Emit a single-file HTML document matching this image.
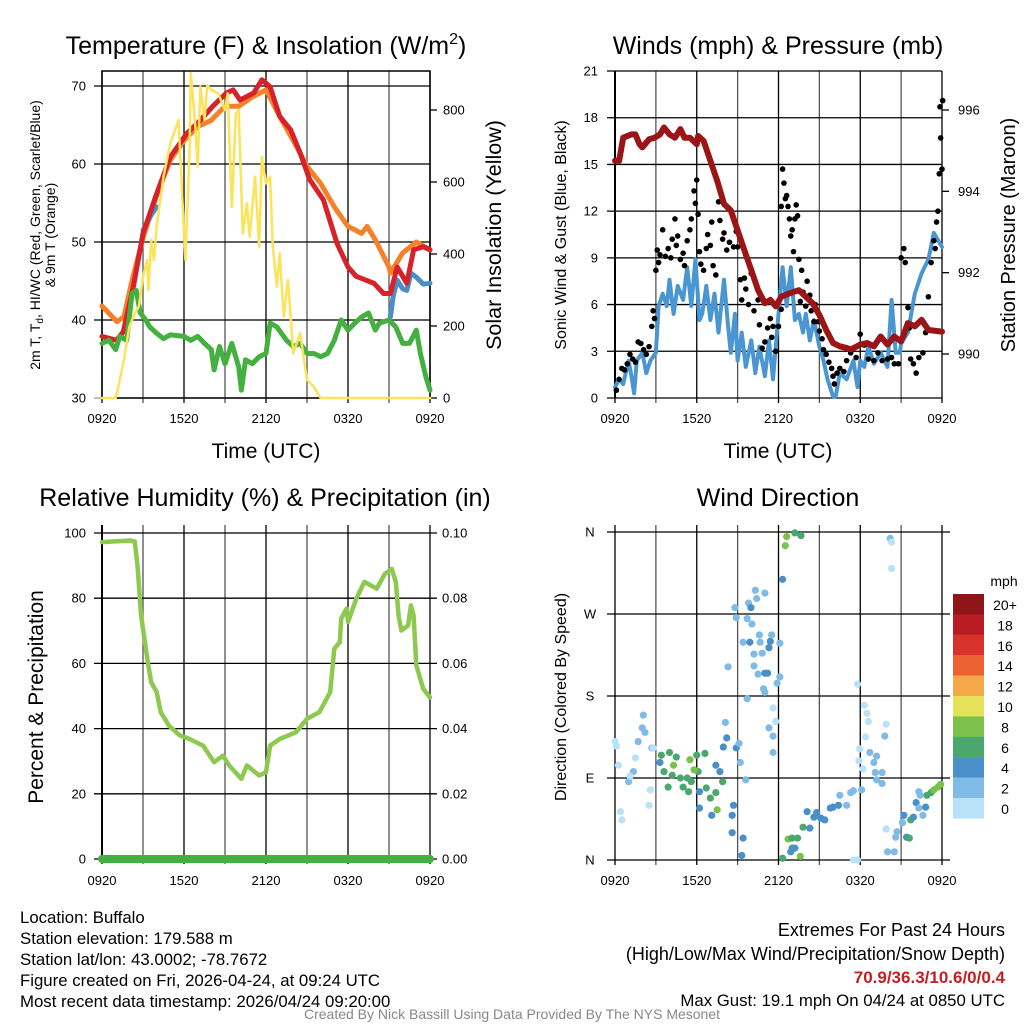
<!DOCTYPE html>
<html><head><meta charset="utf-8">
<style>
html,body{margin:0;padding:0;background:#fff;}
svg{display:block;font-family:"Liberation Sans",sans-serif;}
</style></head>
<body>
<svg id="chart" width="1024" height="1024" viewBox="0 0 1024 1024" xmlns="http://www.w3.org/2000/svg">
<rect width="1024" height="1024" fill="#fff"/>
<g id="layer"></g>
<text x="266" y="54" font-size="25" text-anchor="middle">Temperature (F) &amp; Insolation (W/m<tspan font-size="16" dy="-10">2</tspan><tspan dy="10">)</tspan></text>
<text x="778" y="54" font-size="25" text-anchor="middle">Winds (mph) &amp; Pressure (mb)</text>
<text x="265" y="506" font-size="25" text-anchor="middle">Relative Humidity (%) &amp; Precipitation (in)</text>
<text x="778" y="506" font-size="25" text-anchor="middle">Wind Direction</text>
<text x="266" y="458" font-size="21" text-anchor="middle">Time (UTC)</text>
<text x="778" y="458" font-size="21" text-anchor="middle">Time (UTC)</text>
<text transform="translate(40,235) rotate(-90)" font-size="14" text-anchor="middle">2m T, T<tspan font-size="10" dy="3">d</tspan><tspan dy="-3">, HI/WC (Red, Green, Scarlet/Blue)</tspan></text>
<text transform="translate(55,235) rotate(-90)" font-size="14" text-anchor="middle">&amp; 9m T (Orange)</text>
<text transform="translate(501,235) rotate(-90)" font-size="21.5" text-anchor="middle">Solar Insolation (Yellow)</text>
<text transform="translate(566,235) rotate(-90)" font-size="16" text-anchor="middle">Sonic Wind &amp; Gust (Blue, Black)</text>
<text transform="translate(1015,235) rotate(-90)" font-size="20" text-anchor="middle">Station Pressure (Maroon)</text>
<text transform="translate(43,697) rotate(-90)" font-size="21" text-anchor="middle">Percent &amp; Precipitation</text>
<text transform="translate(566,697) rotate(-90)" font-size="16" text-anchor="middle">Direction (Colored By Speed)</text>
<g font-size="16.8">
<text x="20" y="923">Location: Buffalo</text>
<text x="20" y="944">Station elevation: 179.588 m</text>
<text x="20" y="965">Station lat/lon: 43.0002; -78.7672</text>
<text x="20" y="986">Figure created on Fri, 2026-04-24, at 09:24 UTC</text>
<text x="20" y="1007">Most recent data timestamp: 2026/04/24 09:20:00</text>
</g>
<g text-anchor="end">
<text x="1005" y="936" font-size="18">Extremes For Past 24 Hours</text>
<text x="1005" y="960" font-size="18">(High/Low/Max Wind/Precipitation/Snow Depth)</text>
<text x="1005" y="983" font-size="17" font-weight="bold" fill="#c41e24">70.9/36.3/10.6/0/0.4</text>
<text x="1005" y="1006" font-size="16.8">Max Gust: 19.1 mph On 04/24 at 0850 UTC</text>
</g>
<text x="512" y="1019" font-size="14" fill="#888" text-anchor="middle">Created By Nick Bassill Using Data Provided By The NYS Mesonet</text>
</svg>
<script>
// ---- Panel 1: temperature ----
var tRedT=[0,1.07,1.56,2.3,3.0,4.0,5.0,6.2,7.2,8.1,9.1,9.6,10.1,11.1,11.7,12.3,13.0,13.8,14.5,15.2,16.2,17.2,18.0,18.6,19.9,20.6,21.1,21.6,22.3,22.8,23.5,24];
var tRedV=[37.9,37.4,38.5,44.3,51.1,56.2,60.9,63.9,65.6,67.4,69.1,69.5,68.2,69.1,70.8,69.9,66.1,64.4,61.4,58,55.4,49.8,46.8,45.6,44.7,43.4,43.4,46.8,44.7,49,49.4,49];
var tOrT=[0,1.1,1.6,2.2,3,4,5,6,7,8,9,10,11,12,13,14,15,16,17,18,19,19.4,20,21,21.1,22,23,24];
var tOrV=[41.8,39.8,40.4,45.1,50.5,56,60.5,63,64.8,65.6,67.4,67.4,68.6,69.5,66.1,63,59.7,57.5,54.5,52,51.1,52,50.3,46.8,46,48.6,50,49];
var tBl1T=[3.0,3.3,3.6,4.0];
var tBl1V=[51.5,52.5,53.5,54.5];
var tBl2T=[21.1,21.3,21.6,22,22.3,22.6,23,23.5,24];
var tBl2V=[40.4,43,45.1,44,43.8,46,45.5,44.6,44.7];
var tGrT=[0,0.5,1,1.3,1.8,2.2,2.5,2.8,3.2,3.5,4,4.5,5,6,6.5,7,7.5,8,8.2,8.6,9,9.5,10,10.2,10.5,11,11.5,12,12.3,12.8,13.5,14,14.5,15,15.5,16,16.5,17,17.5,18,18.5,19,19.5,20,20.3,21,21.5,22,22.5,23,23.3,23.7,24];
var tGrV=[37.0,37.4,36.2,37.9,37.4,43.4,43.8,40.9,40.0,39.1,38.3,37.6,38.1,37.9,37.4,37.9,37.0,36.2,33.6,36.6,34.4,37.0,34.0,31.0,34.9,34.4,35.3,35.7,39.6,39.1,37.4,36.6,37.0,35.7,35.7,35.3,35.7,37.4,40.0,38.7,39.6,40.4,40.9,38.7,39.6,40.0,39.1,37.0,37.0,38.7,35.7,32.7,31.0];
var solT=[0,1,1.2,1.6,2,2.4,2.7,3,3.3,3.4,3.6,3.8,4,4.5,5,5.6,6.1,6.4,6.5,6.8,7,7.2,7.5,7.7,8,8.5,9,9.2,9.5,9.8,10,10.3,10.6,10.8,11.2,11.5,11.7,12,12.3,12.5,12.8,13,13.3,13.6,14,14.5,15,15.5,16,24];
var solV=[0,0,31,106,198,235,254,337,383,300,439,383,476,615,707,772,383,680,902,772,643,865,772,869,856,846,800,846,531,791,800,457,541,448,615,420,670,596,615,420,309,402,226,328,124,180,50,31,0,0];
var tempTicks=[30,40,50,60,70];
var solTicks=[0,200,400,600,800];
var timeLabels=["0920","1520","2120","0320","0920"];
// ---- Panel 2: winds ----
var presT=[0,0.3,0.6,1.2,1.5,1.8,2,2.5,2.9,3.3,3.6,4,4.4,4.8,5.1,5.5,6,6.1,6.5,7,7.5,8,8.5,9,9.5,10,10.5,11,11.4,11.8,12.2,12.8,13.5,14,14.5,15,15.5,16,16.5,17,17.3,18,18.5,19,19.5,20,20.5,21,21.5,22,22.5,23,24];
var presV=[994.75,994.75,995.32,995.40,995.40,995.16,995.08,995.28,995.32,995.40,995.57,995.40,995.32,995.53,995.32,995.32,995.16,995.36,995.24,994.75,994.26,993.69,993.53,993.04,992.55,992.06,991.57,991.25,991.33,991.17,991.41,991.49,991.57,991.41,991.25,990.96,990.59,990.27,990.19,990.15,990.11,990.23,990.27,990.19,990.43,990.23,990.43,990.31,990.76,990.68,990.84,990.59,990.55];
var windT=[0,0.3,0.6,1,1.2,1.4,1.6,2,2.3,2.6,3,3.2,3.5,3.8,4,4.3,4.6,5,5.3,5.6,5.9,6.2,6.4,6.7,7,7.3,7.6,8,8.3,8.5,8.8,9,9.3,9.6,10,10.3,10.6,11,11.3,11.6,12,12.3,12.6,12.9,13.2,13.5,13.8,14,14.3,14.6,15,15.3,15.6,16,16.2,16.5,17,17.5,17.8,18,18.3,18.6,19,19.5,20,20.3,20.6,20.9,21,21.5,22,22.5,23,23.4,24];
var windV=[0.7,1.2,0.9,2.4,1.4,0.3,2.4,2.9,1.6,2.4,2.9,5.9,6.7,5.9,7.6,5.4,7.2,6.3,8.4,5.9,8.9,5.0,5.4,7.2,5.0,6.7,4.2,7.6,4.6,2.9,5.4,2.4,4.2,2.0,3.7,1.6,3.3,1.4,3.7,1.2,5.4,8.4,5.9,8.4,5.0,5.4,4.2,5.4,3.7,5.0,3.3,2.4,1.2,0.1,0.1,1.6,1.2,2.4,0.7,2.4,2.0,3.3,2.2,2.9,2.0,6.3,2.9,2.9,3.5,4.2,6.7,8.0,8.9,10.6,9.7];
var gustT=[0.1,0.3,0.5,0.7,0.9,1.1,1.3,1.5,1.7,1.9,2.1,2.3,2.5,2.7,2.8,2.9,3.0,3.1,3.2,3.3,3.5,3.7,3.9,4.1,4.2,4.4,4.5,4.6,4.8,5.0,5.1,5.3,5.5,5.6,5.8,5.9,6.0,6.1,6.2,6.3,6.5,6.7,6.8,7.0,7.1,7.2,7.4,7.6,7.7,7.9,8.0,8.2,8.4,8.6,8.7,8.9,9.0,9.2,9.3,9.5,9.6,9.8,10.0,10.2,10.5,10.6,10.8,11.0,11.2,11.4,11.5,11.6,11.8,12.0,12.2,12.2,12.3,12.4,12.5,12.6,12.7,12.8,12.9,13.0,13.1,13.2,13.3,13.4,13.5,13.6,13.7,13.8,14.0,14.1,14.3,14.4,14.6,14.7,14.9,15.0,15.2,15.3,15.5,15.7,15.9,16.0,16.1,16.3,16.5,16.8,17.0,17.3,17.5,17.7,18.0,18.3,18.6,19.0,19.3,19.6,20.0,20.3,20.5,20.8,21.0,21.2,21.3,21.5,21.6,21.7,21.9,22.1,22.3,22.6,22.8,23.0,23.2,23.4,23.5,23.6,23.7,23.8,23.85,23.9,24.0,24.05];
var gustV=[0.5,1.2,1.9,1.8,2.2,2.8,2.5,2.3,3.6,3.5,3.1,2.8,3.3,4.6,5.6,5.1,8.2,9.5,8.7,9.2,10.8,9.1,9.6,9.0,10.2,11.5,9.8,10.4,8.9,9.3,8.5,10.1,10.8,11.5,13.3,12.5,14.0,11.8,9.4,8.6,8.2,9.6,10.5,9.8,11.3,8.5,7.9,12.6,11.4,10.2,10.6,9.5,10.0,11.8,9.7,10.7,9.7,7.6,6.3,7.7,7.0,6.0,8.0,5.6,6.3,4.7,3.2,3.6,4.5,5.1,3.9,4.6,3.0,4.6,5.7,12.3,14.7,13.8,12.8,13.0,12.3,11.5,10.4,10.8,9.4,11.5,12.4,11.7,8.9,6.2,8.2,6.8,5.9,7.5,6.6,5.6,4.9,6.0,4.9,4.3,3.8,3.1,2.8,2.3,1.9,1.4,0.9,1.6,1.9,1.7,2.4,2.9,3.2,2.6,4.1,3.4,2.5,2.4,2.9,2.4,2.5,2.6,2.2,2.2,9.0,9.6,8.7,5.8,4.5,2.5,2.2,1.6,2.6,2.9,4.2,6.5,8.7,10.1,9.6,11.3,12.0,14.4,18.7,16.7,14.7,19.1];
var windTicks=[0,3,6,9,12,15,18,21];
var presTicks=[990,992,994,996];
// ---- Panel 3: RH ----
var rhT=[0,2.0,2.4,2.6,2.86,3.35,3.6,4.0,4.3,4.9,5.7,6.4,7.4,8.2,8.85,9.3,10.2,10.6,11.5,12.0,12.3,13.0,14.2,15.0,15.9,16.7,17.0,17.4,17.5,17.9,18.0,18.6,19.2,20.1,20.7,21.2,21.5,21.7,21.9,22.4,22.6,22.8,23.0,23.5,24];
var rhV=[97.2,97.7,97.4,90,74.7,60.4,54.2,51.2,45,40.9,37.9,36.8,34.8,29.7,31.7,28.7,24.6,28.7,25.6,26.6,34.8,36.8,38.9,43,45,51.2,64.5,66.5,73.7,76.8,72.7,79.8,85,82.9,87.5,89,85,74.7,70.1,71.6,77.8,74.7,59.4,52.2,49.6];
var precipT=[0,24];
var precipV=[0,0];
var rhTicks=[0,20,40,60,80,100];
var precipTicks=["0.00","0.02","0.04","0.06","0.08","0.10"];
// ---- Panel 4: wind direction ----
var dirT=[0,0.25,1,0.4,0.5,1.35,1.7,2.0,2.08,2.6,2.5,2.7,2.8,0.1,1.1,1.5,2.2,
3.4,4.0,4.5,3.6,4.2,4.8,5.3,5.6,6.1,6.7,7.0,7.4,7.9,3.9,5.0,5.4,6.0,6.6,4.3,5.5,7.5,5.8,
3.3,6.2,6.2,7.1,7.4,7.7,8.2,7.95,8.6,8.7,8.6,9.4,8.9,9.3,8.1,9.1,9.2,9.6,
8.8,8.9,9.8,9.98,10.3,10.4,11.0,9.7,10.05,9.4,9.9,10.6,10.65,11.4,11.5,12.1,11.3,10.2,10.8,8.3,10.2,10.5,11.0,11.2,12.1,11.9,10.9,11.0,9.7,11.6,11.8,11.3,11.6,11.6,12.3,12.5,12.6,13.2,13.65,
12.3,12.7,13.0,13.4,13.0,12.9,13.6,13.8,13.2,14.1,14.3,14.6,14.8,15.1,15.4,15.8,16.0,16.4,16.5,17.0,17.3,17.5,18.1,17.8,17.5,
17.8,18.3,18.5,18.6,18.4,17.96,17.9,18.2,18.7,19.2,19.0,19.1,19.6,19.2,19.6,19.9,19.8,20.2,20.3,20.3,19.9,20.0,20.5,
20.6,20.7,21.2,21.1,21.4,21.6,21.7,21.9,22.1,22.3,22.6,22.8,22.4,22.3,22.9,23.2,23.4,23.7,23.9];
var dirV=[130,104,86,53,44,97,130,145,159,77,60,123,123,125,92,112,140,
115,118,113,97,93,90,90,86,97,79,68,74,86,80,80,75,115,117,104,110,55,99,
107,75,57,49,104,97,134,124,49,60,30,24,123,5,151,128,107,88,
277,266,282,277,296,287,293,265,259,239,239,247,239,240,247,238,233,226,227,212,213,204,205,205,201,194,188,184,177,167,152,145,136,118,308,345,355,359,356,
2,23,24,24,13,9,4,36,13,53,35,47,52,46,44,57,58,60,71,60,74,76,77,0,0,
193,170,161,152,135,122,109,100,118,114,107,96,96,88,84,149,136,353,349,320,34,9,9,
25,31,49,41,25,24,44,47,63,57,49,58,71,75,71,74,77,80,83];
var dirS=[1.5,1.5,2.5,1.5,0.5,2.5,2.5,2.5,2.5,1.5,1.5,2.5,1.5,0.5,1.5,1.5,2.5,
6.5,6.5,6.5,6.5,6.5,6.5,6.5,6.5,6.5,6.5,6.5,6.5,6.5,6.5,6.5,6.5,6.5,6.5,8.5,8.5,8.5,8.5,
4.5,4.5,4.5,4.5,4.5,4.5,4.5,4.5,4.5,4.5,4.5,4.5,4.5,4.5,2.5,2.5,2.5,2.5,
2.5,2.5,2.5,4.5,2.5,2.5,2.5,2.5,2.5,2.5,4.5,2.5,2.5,4.5,2.5,2.5,4.5,2.5,2.5,2.5,2.5,2.5,4.5,4.5,2.5,2.5,2.5,2.5,2.5,1.5,1.5,2.5,2.5,2.5,4.5,8.5,8.5,6.5,6.5,
6.5,8.5,6.5,6.5,6.5,4.5,8.5,6.5,4.5,4.5,4.5,4.5,4.5,4.5,4.5,4.5,4.5,4.5,2.5,2.5,2.5,2.5,2.5,1.5,1.5,
1.5,1.5,1.5,1.5,1.5,1.5,1.5,1.5,2.5,2.5,2.5,2.5,2.5,2.5,2.5,1.5,2.5,2.5,1.5,1.5,1.5,2.5,2.5,
2.5,2.5,4.5,2.5,4.5,6.5,6.5,4.5,4.5,2.5,2.5,4.5,2.5,2.5,6.5,6.5,8.5,9.5,9.5];
var dirTicks=["N","E","S","W","N"];
var cbarLabels=["20+","18","16","14","12","10","8","6","4","2","0"];
var cbarColors=["#8e1518","#b81c22","#d8322a","#ee6130","#f5a848","#e6e25a","#7cc14a","#4aa86e","#4a8fc7","#7fbbe6","#b7e2f7"];

var NS="http://www.w3.org/2000/svg";
var layer=document.getElementById('layer');
function mk(tag,attrs,parent){var e=document.createElementNS(NS,tag);for(var k in attrs)e.setAttribute(k,attrs[k]);(parent||layer).appendChild(e);return e;}
function xs(x0,x1){return function(t){return x0+(x1-x0)*t/24;};}
function ys(v0,v1,p0,p1){return function(v){return p0+(p1-p0)*(v-v0)/(v1-v0);};}
function pathD(T,V,sx,sy){var d="";for(var i=0;i<T.length;i++){d+=(i?"L":"M")+sx(T[i]).toFixed(1)+","+sy(V[i]).toFixed(1);}return d;}
function vgrid(sx,top,bot){for(var i=0;i<=8;i++){var x=sx(i*3);var l=mk('line',{x1:x,x2:x,y1:top,y2:bot+5,stroke:i%2?'#555':'#000','stroke-width':1.3});}}
function xlabels(sx,y){for(var i=0;i<5;i++){var t=mk('text',{x:sx(i*6),y:y,'font-size':13,'text-anchor':'middle'});t.textContent=timeLabels[i];}}
function hline(y,x0,x1,c){var l=mk('line',{x1:x0,x2:x1,y1:y,y2:y,stroke:c||'#000','stroke-width':1.3});}
function lbl(x,y,s,anc){var t=mk('text',{x:x,y:y+4.5,'font-size':13,'text-anchor':anc});t.textContent=s;}
function line(T,V,sx,sy,c,w,name){var p=mk('path',{d:pathD(T,V,sx,sy),fill:'none',stroke:c,'stroke-width':w,'stroke-linejoin':'round','stroke-linecap':'round'});}

// Panel 1
var X1=xs(102,430), Y1=ys(30,70,398,86), S1=ys(0,800,398,110);
vgrid(X1,71,398);
tempTicks.forEach(function(v){hline(Y1(v),94,430,v==30?'#999':'#000');lbl(86,Y1(v),String(v),'end');});
solTicks.forEach(function(v){var l=mk('line',{x1:430,x2:437,y1:S1(v),y2:S1(v),stroke:'#000','stroke-width':1.3});lbl(443,S1(v),String(v),'start');});
var f1=mk('rect',{x:102,y:71,width:328,height:327,fill:'none',stroke:'#000','stroke-width':1.5});
xlabels(X1,423);
line(tOrT,tOrV,X1,Y1,'#f5822a',5,'temp-9m-line');
line(tBl1T,tBl1V,X1,Y1,'#4a8fc7',5,'heat-index-line');
line(tBl2T,tBl2V,X1,Y1,'#4a8fc7',5,'wind-chill-line');
line(tRedT,tRedV,X1,Y1,'#d7222a',5,'temp-2m-line');
line(tGrT,tGrV,X1,Y1,'#43b03f',5,'dewpoint-line');
line(solT,solV,X1,S1,'#fbe35a',2.5,'solar-line');

// Panel 2
var X2=xs(615,942), W2=ys(0,21,398,71), P2=ys(990,996,354,110);
vgrid(X2,71,398);
windTicks.forEach(function(v){hline(W2(v),607,942);lbl(598,W2(v),String(v),'end');});
presTicks.forEach(function(v){var l=mk('line',{x1:942,x2:949,y1:P2(v),y2:P2(v),stroke:'#000','stroke-width':1.3});lbl(958,P2(v),String(v),'start');});
var f2=mk('line',{x1:615,x2:615,y1:71,y2:398,stroke:'#000','stroke-width':2});
xlabels(X2,423);
line(windT,windV,X2,W2,'#4a96d2',4,'sonic-wind-line');
for(var i=0;i<gustT.length;i++){var c=mk('circle',{cx:X2(gustT[i]),cy:W2(gustV[i]),r:2.8,fill:'#000'});}
line(presT,presV,X2,P2,'#9b1518',6,'pressure-line');

// Panel 3
var X3=xs(102,430), R3=ys(0,100,859,533);
vgrid(X3,525,859);
rhTicks.forEach(function(v,i){hline(R3(v),94,437,'#000');lbl(86,R3(v),String(v),'end');lbl(442,R3(v),precipTicks[i],'start');});
var f3=mk('line',{x1:102,x2:102,y1:525,y2:860,stroke:'#000','stroke-width':2});
xlabels(X3,885);
line(rhT,rhV,X3,R3,'#8dc94e',4.5,'rh-line');
line(precipT,precipV,X3,R3,'#43b03f',8,'precip-line');

// Panel 4
var X4=xs(615,942), D4=ys(0,360,860,532);
vgrid(X4,525,860);
dirTicks.forEach(function(s,i){hline(D4(i*90),607,950,'#000');lbl(590,D4(i*90),s,'middle');});
xlabels(X4,885);
function spdColor(s){var b=Math.min(10,Math.floor(s/2));return cbarColors[10-b];}
for(var i=0;i<dirT.length;i++){var c=mk('circle',{cx:X4(dirT[i]),cy:D4(dirV[i]),r:3.6,fill:spdColor(dirS[i])});}
// colorbar
var cbTitle=mk('text',{x:1004,y:586,'font-size':14,'text-anchor':'middle'});cbTitle.textContent='mph';


for(var i=0;i<11;i++){var r=mk('rect',{x:953,y:594+i*20.4,width:31,height:20.6,fill:cbarColors[i]});
var t=mk('text',{x:1005,y:610+i*20.4,'font-size':14,'text-anchor':'middle'});t.textContent=cbarLabels[i];}
</script>
</body></html>
